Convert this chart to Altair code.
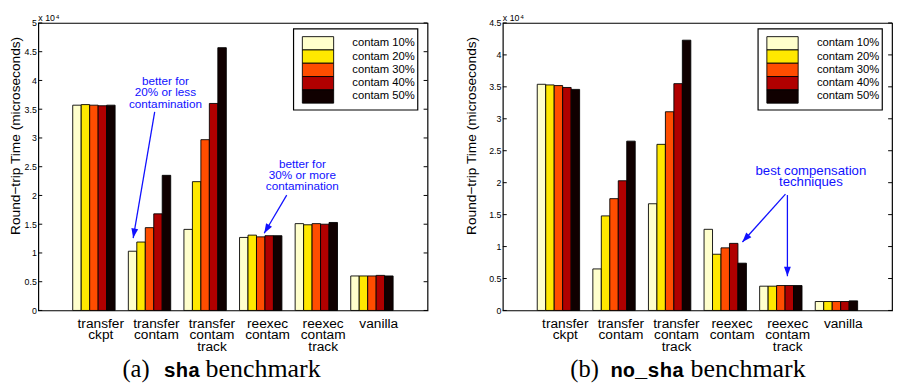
import math
import altair as alt
import pandas as pd

categories = ["transfer ckpt", "transfer contam", "transfer contam track",
              "reexec contam", "reexec contam track", "vanilla"]
series = ["contam 10%", "contam 20%", "contam 30%", "contam 40%", "contam 50%"]
colors = ["#FFFFCC", "#FFE800", "#FF4D00", "#B00000", "#100000"]

sha_values = [
    [35700, 35800, 35700, 35600, 35700],
    [10300, 11900, 14400, 16800, 23500],
    [14100, 22400, 29700, 36000, 45700],
    [12700, 13100, 12800, 13000, 13000],
    [15100, 14900, 15100, 15000, 15300],
    [6000, 6000, 6000, 6100, 6000],
]
nosha_values = [
    [35400, 35300, 35200, 34900, 34600],
    [6500, 14800, 17500, 20300, 26500],
    [16700, 26000, 31100, 35500, 42300],
    [12700, 8800, 9800, 10500, 7400],
    [3800, 3800, 3900, 3900, 3900],
    [1400, 1400, 1400, 1400, 1500],
]
sha_ticks = [0, 5000, 10000, 15000, 20000, 25000, 30000, 35000, 40000, 45000, 50000]
nosha_ticks = [0, 5000, 10000, 15000, 20000, 25000, 30000, 35000, 40000, 45000]

W, H = 398, 294
BLUE = "#1010ff"
ARROW_PATH = "M0,0L-0.36,-1L0.36,-1Z"
one = pd.DataFrame({"k": [0]})


def panel(values, ymax, ticks, caption, notes, arrows, title_x):
    rows = []
    for ci, c in enumerate(categories):
        for si, s in enumerate(series):
            rows.append({"cat": c, "series": s, "value": values[ci][si]})
    df = pd.DataFrame(rows)
    yscale = alt.Scale(domain=[0, ymax], nice=False)
    yaxis = alt.Axis(values=ticks, tickCount=len(ticks),
                     labelExpr="'' + (datum.value / 10000)",
                     ticks=False, domain=False, grid=False,
                     labelOverlap=False, labelBound=False,
                     labelFlush=False,
                     title="Round\u2212trip Time (microseconds)",
                     titleFont="Liberation Sans", titleFontSize=14,
                     titleFontWeight="normal", titleColor="black",
                     titleX=title_x, titleY=115,
                     labelFont="Liberation Sans", labelFontSize=9,
                     labelColor="black", labelPadding=2)
    color = alt.Color("series:N", sort=series,
                      scale=alt.Scale(domain=series, range=colors), legend=None)
    bars = alt.Chart(df).mark_bar(stroke="black", strokeWidth=0.9).encode(
        x=alt.X("cat:N", sort=categories,
                scale=alt.Scale(paddingInner=0.238, paddingOuter=0.619),
                axis=alt.Axis(title=None, labelAngle=0,
                              labelExpr="split(datum.label, ' ')",
                              ticks=False, domain=False, grid=False,
                              labelFont="Liberation Sans", labelFontSize=14,
                              labelLineHeight=12, labelPadding=6,
                              labelOffset=7, labelColor="black",
                              labelOverlap=False, labelBaseline="top",
                              labelBound=False, labelFlush=False)),
        xOffset=alt.XOffset("series:N", sort=series,
                            scale=alt.Scale(paddingInner=0, paddingOuter=0)),
        y=alt.Y("value:Q", scale=yscale, axis=yaxis),
        color=color,
    )
    tdf = pd.DataFrame({"value": ticks})
    tick_l = alt.Chart(tdf).mark_rule(color="black", strokeWidth=1).encode(
        y=alt.Y("value:Q", scale=yscale, axis=yaxis), x=alt.value(0), x2=alt.value(4))
    tick_r = alt.Chart(tdf).mark_rule(color="black", strokeWidth=1).encode(
        y=alt.Y("value:Q", scale=yscale, axis=yaxis), x=alt.value(W - 4), x2=alt.value(W))

    exp1 = alt.Chart(one).mark_text(align="left", baseline="middle",
                                    font="Liberation Sans", fontSize=9,
                                    color="black").encode(
        x=alt.value(0), y=alt.value(-4.5), text=alt.value("x 10"))
    exp2 = alt.Chart(one).mark_text(align="left", baseline="middle",
                                    font="Liberation Sans", fontSize=6,
                                    color="black").encode(
        x=alt.value(18), y=alt.value(-6.5), text=alt.value("4"))

    layers = [bars, tick_l, tick_r, exp1, exp2]

    for (lines, cx, ty, fs, lh) in notes:
        layers.append(alt.Chart(one).mark_text(
            align="center", baseline="top", font="Liberation Sans",
            fontSize=fs, lineHeight=lh, color=BLUE).encode(
            x=alt.value(cx), y=alt.value(ty), text=alt.value(lines)))

    for (x1, y1, x2, y2) in arrows:
        ang = math.degrees(math.atan2(-(x2 - x1), (y2 - y1)))
        if ang < 0:
            ang += 360
        layers.append(alt.Chart(one).mark_rule(color=BLUE, strokeWidth=1.3).encode(
            x=alt.value(x1), y=alt.value(y1), x2=alt.value(x2), y2=alt.value(y2)))
        layers.append(alt.Chart(one).mark_point(
            shape=ARROW_PATH, filled=True, size=380, angle=ang,
            color=BLUE, opacity=1).encode(x=alt.value(x2), y=alt.value(y2)))

    for (txt, font, weight, fs, cx) in caption:
        layers.append(alt.Chart(one).mark_text(
            align="left", baseline="alphabetic", font=font, fontSize=fs,
            fontWeight=weight, color="black").encode(
            x=alt.value(cx), y=alt.value(362), text=alt.value(txt)))

    box = alt.Chart(one).mark_rect(fill="white", stroke="black", strokeWidth=1.2).encode(
        x=alt.value(261), x2=alt.value(388), y=alt.value(6), y2=alt.value(89))
    layers.append(box)

    main = alt.layer(*layers)

    ldf = pd.DataFrame({"series": series})
    ly = alt.Y("series:N", sort=series,
               scale=alt.Scale(range=[14, 82], paddingInner=0, paddingOuter=0),
               axis=None)
    sw = alt.Chart(ldf).mark_rect(stroke="black", strokeWidth=0.9).encode(
        x=alt.value(270), x2=alt.value(302), y=ly, color=color)
    lt = alt.Chart(ldf).mark_text(align="right", baseline="middle",
                                  font="Liberation Sans", fontSize=11.5,
                                  color="black").encode(
        x=alt.value(385), y=ly, text="series:N")
    legend = alt.layer(sw, lt)

    return alt.layer(main, legend).resolve_scale(y="independent").properties(
        width=W, height=H)


left = panel(
    sha_values, 50000, sha_ticks,
    [("(a)", "Liberation Serif", "normal", 25, 86),
     ("sha", "Liberation Mono", "bold", 21, 128),
     ("benchmark", "Liberation Serif", "normal", 26.5, 171)],
    [(["better for", "20% or less", "contamination"], 130, 54, 12, 12),
     (["better for", "30% or more", "contamination"], 270, 139, 12, 11.5)],
    [(119, 91, 97, 220), (254, 176, 231, 215)],
    -16,
)
right = panel(
    nosha_values, 45000, nosha_ticks,
    [("(b)", "Liberation Serif", "normal", 25, 69),
     ("no_sha", "Liberation Mono", "bold", 21, 110),
     ("benchmark", "Liberation Serif", "normal", 26.5, 192)],
    [(["best compensation", "techniques"], 315, 144, 13.5, 12)],
    [(289, 175, 245, 224), (291, 176, 291, 259)],
    -25,
)

chart = alt.hconcat(left, right, spacing=35).properties(
    padding=0, background="white"
).configure_view(stroke="black", strokeWidth=1.2)

chart.save("out.html", embed_options={"renderer": "svg", "actions": False})
